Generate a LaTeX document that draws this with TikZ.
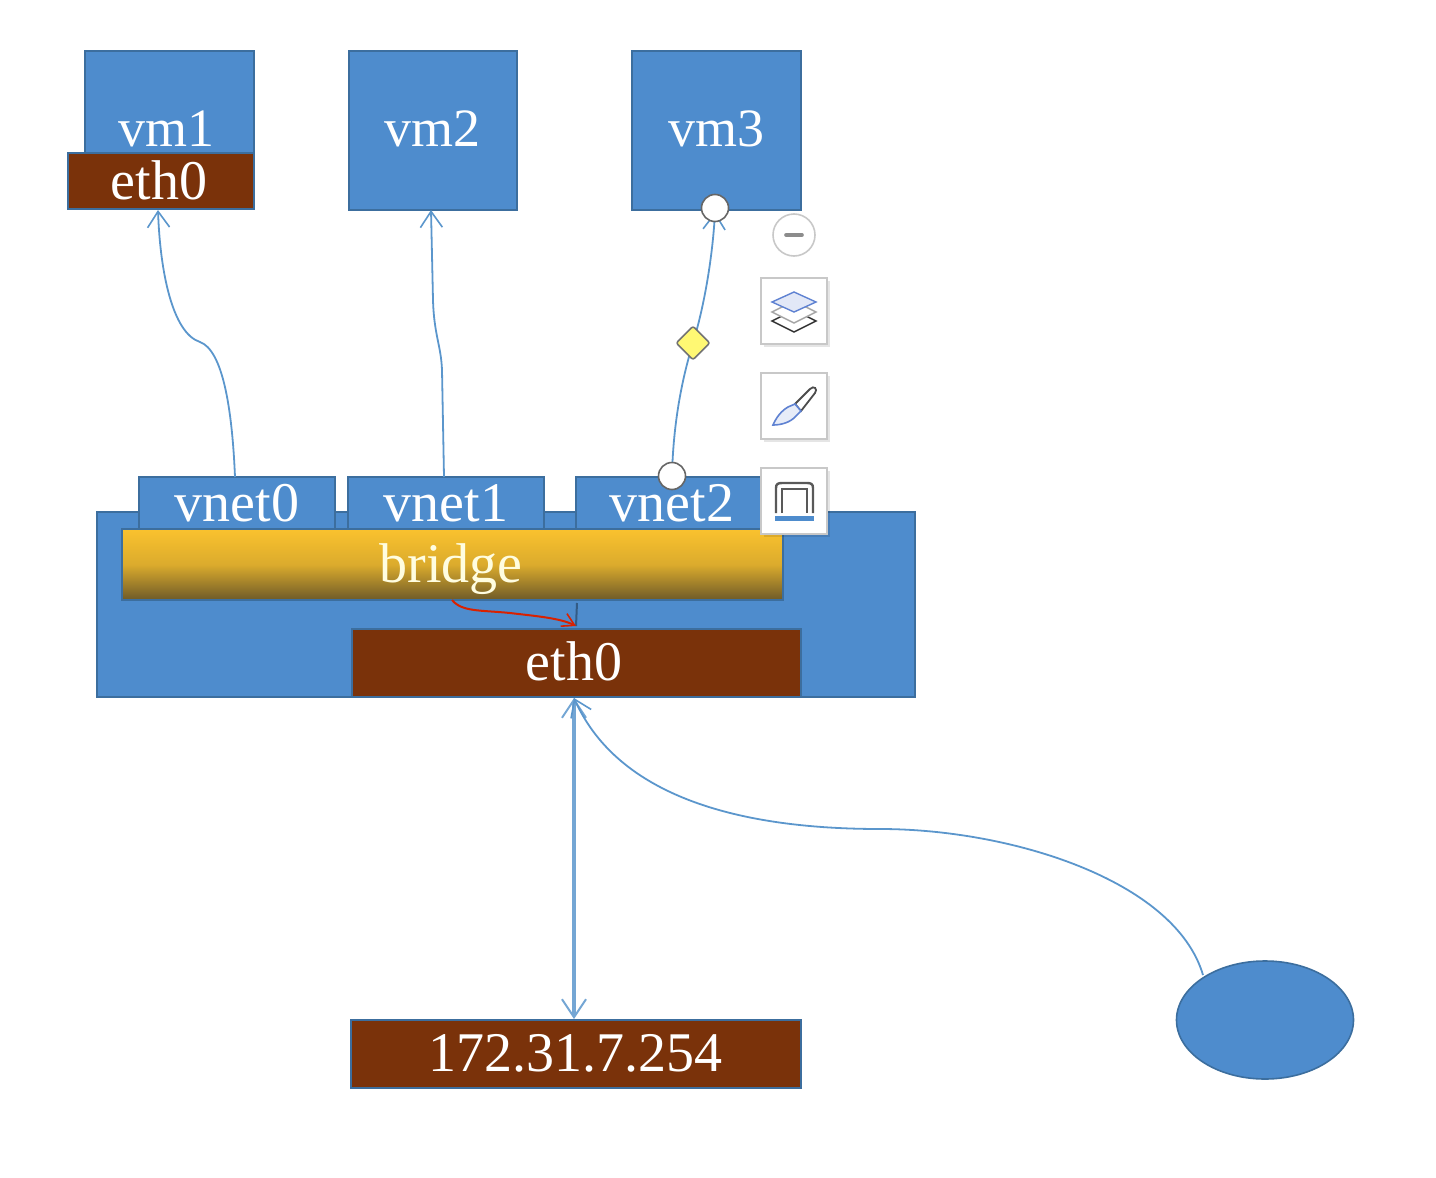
\documentclass[tikz,border=0pt]{standalone}
\usepackage{fontspec}
\setmainfont{Liberation Serif}
\usetikzlibrary{arrows.meta,shapes.geometric,shadows}
\definecolor{boxblue}{HTML}{4E8CCD}
\definecolor{edgeblue}{HTML}{3C6E9E}
\definecolor{brown}{HTML}{7A320A}
\definecolor{linkblue}{HTML}{5B96CC}
\definecolor{gold}{HTML}{FAC22E}
\definecolor{golddark}{HTML}{6E5A28}
\definecolor{btn}{HTML}{C8C8C8}
\definecolor{iconblue}{HTML}{5F82D2}
\tikzset{
  x=0.5pt,y=-0.5pt,
  wh/.style 2 args={minimum width=#1*0.5pt,minimum height=#2*0.5pt},
  lbl/.style={font=\fontsize{28}{28}\selectfont,text=white,inner sep=0pt,outer sep=0pt},
  vmlbl/.style={lbl,font=\fontsize{27}{27}\selectfont},
  bluebox/.style={lbl,draw=edgeblue,line width=1pt,fill=boxblue,anchor=north west},
  brownbox/.style={lbl,draw=edgeblue,line width=1pt,fill=brown,anchor=north west},
  link/.style={draw=linkblue,line width=0.9pt},
  arrowlink/.style={link,-{Straight Barb[length=8pt,width=11pt,line width=0.8pt]}},
  handle/.style={circle,draw=black!60,fill=white,line width=0.8pt,minimum size=13.5pt,inner sep=0pt},
  btnbox/.style={draw=btn,fill=white,line width=0.8pt,minimum size=33pt,inner sep=0pt,
    drop shadow={shadow xshift=1.5pt,shadow yshift=-1.5pt,opacity=0.1,fill=black}},
}
\begin{document}
\begin{tikzpicture}
\useasboundingbox (0,0) rectangle (1436,1178);
% host
\node[bluebox,wh={818}{185}] (host) at (97,512) {};
\node[bluebox,wh={196}{52}] (vnet0) at (139,477) {vnet0};
\node[bluebox,wh={196}{52}] (vnet1) at (348,477) {vnet1};
\node[bluebox,wh={196}{52}] (vnet2) at (576,477) {};
\node[lbl] (vnet2t) at (672,503) {vnet2};
\node[draw=edgeblue,line width=1pt,top color=gold,bottom color=golddark,middle color=gold!78!golddark,
  lbl,anchor=north west,wh={661}{71}] (bridge) at (122,529) {};
\node[lbl,text=white!88!yellow] (bridget) at (451,569) {bridge};
\node[brownbox,wh={449}{68}] (eth) at (352,629) {};
\node[lbl] (etht) at (574,661) {eth0};
% vms
\node[bluebox,wh={169}{158}] (vm1) at (85,51) {};
\node[vmlbl] (vm1t) at (166,129) {vm1};
\node[brownbox,wh={186}{56}] (vm1eth) at (68,153) {};
\node[lbl] (vm1etht) at (159,180) {eth0};
\node[bluebox,wh={168}{159}] (vm2) at (349,51) {};
\node[vmlbl] (vm2t) at (432,129) {vm2};
\node[bluebox,wh={169}{159}] (vm3) at (632,51) {};
\node[vmlbl] (vm3t) at (716,129) {vm3};
% lower
\node[brownbox,wh={450}{68}] (gw) at (351,1020) {};
\node[lbl] (gwt) at (575,1053) {172.31.7.254};
\node[ellipse,draw=edgeblue,line width=0.8pt,fill=boxblue,wh={177}{118},inner sep=0pt] (cloud) at (1265,1020) {};
% anchors for connectors
\coordinate (a0) at (235,477);
\coordinate (a1) at (158,210);
\coordinate (b0) at (444,477);
\coordinate (b1) at (431,210);
\coordinate (c0) at (672,476);
\coordinate (c1) at (715,212);
\coordinate (d0) at (574,698);
\coordinate (d1) at (574,1019);
\coordinate (e0) at (1203,975);
\coordinate (r0) at (452,600);
\coordinate (r1) at (576,626);
% links
\draw[arrowlink] (a0) .. controls (232,405) and (222,350) .. (200,342) .. controls (172,333) and (160,270) .. (a1);
\draw[arrowlink] (b0) -- (442,370) .. controls (441,345) and (434,335) .. (433,300) -- (b1);
\draw[arrowlink] (c0) .. controls (673,430) and (680,385) .. (693,343) .. controls (706,300) and (713,250) .. (c1);
\draw[link,line width=1.7pt,draw=linkblue!85!white,{Straight Barb[length=9pt,width=12pt,line width=1pt]}-{Straight Barb[length=9pt,width=12pt,line width=1pt]}] (d0) -- (d1);
\draw[arrowlink] (e0) .. controls (1175,880) and (1010,829) .. (880,829) .. controls (725,829) and (615,790) .. (d0);
\draw[draw=black!35!boxblue,line width=1pt] (577,603) -- (r1);
\draw[draw=red!70!orange!85!black,line width=1pt,-{Straight Barb[length=6pt,width=7pt,line width=0.8pt]}] (r0) .. controls (462,612) and (480,610) .. (510,613) .. controls (535,616) and (560,618) .. (r1);
% selection handles
\node[handle] (h1) at (715,208) {};
\node[handle] (h0) at (672,476) {};
\node[diamond,draw=black!55,fill=yellow!55,line width=0.8pt,minimum size=17pt,inner sep=0pt,rounded corners=1pt] (mid) at (693,343) {};
% toolbar
\node[circle,draw=btn,fill=white,line width=0.8pt,minimum size=21pt,inner sep=0pt] (minus) at (794,235) {};
\draw[line width=1.8pt,draw=black!45,line cap=round] (786,235) -- (802,235);
\node[btnbox] (layers) at (794,311) {};
\node[btnbox] (brush) at (794,406) {};
\node[btnbox] (frame) at (794,501) {};
% layers icon
\draw[black!80,line width=0.7pt,fill=white] (794,310) -- (816,321) -- (794,332) -- (772,321) -- cycle;
\draw[black!35,line width=0.7pt,fill=white] (794,301) -- (816,312) -- (794,323) -- (772,312) -- cycle;
\draw[iconblue,line width=0.7pt,fill=iconblue!18] (794,292) -- (816,302) -- (794,312) -- (772,302) -- cycle;
% brush icon
\draw[black!70,line width=0.9pt,fill=white] (795,404) -- (810,389) .. controls (814,385) and (818,389) .. (815,393) -- (801,411) -- cycle;
\draw[iconblue,line width=0.8pt,fill=iconblue!15] (788,407) -- (795,404) -- (801,411) -- (796,416) .. controls (790,423) and (780,425) .. (773,425) .. controls (776,418) and (781,411) .. (788,407) -- cycle;
% frame icon
\draw[black!65,line width=1.2pt] (776,513) -- (776,488) .. controls (776,484) and (778,483) .. (782,483) -- (807,483) .. controls (811,483) and (813,484) .. (813,488) -- (813,513);
\draw[black!65,line width=1.2pt] (782,513) -- (782,489) -- (807,489) -- (807,513);
\fill[boxblue] (775,516) rectangle (814,521);
\end{tikzpicture}
\end{document}
